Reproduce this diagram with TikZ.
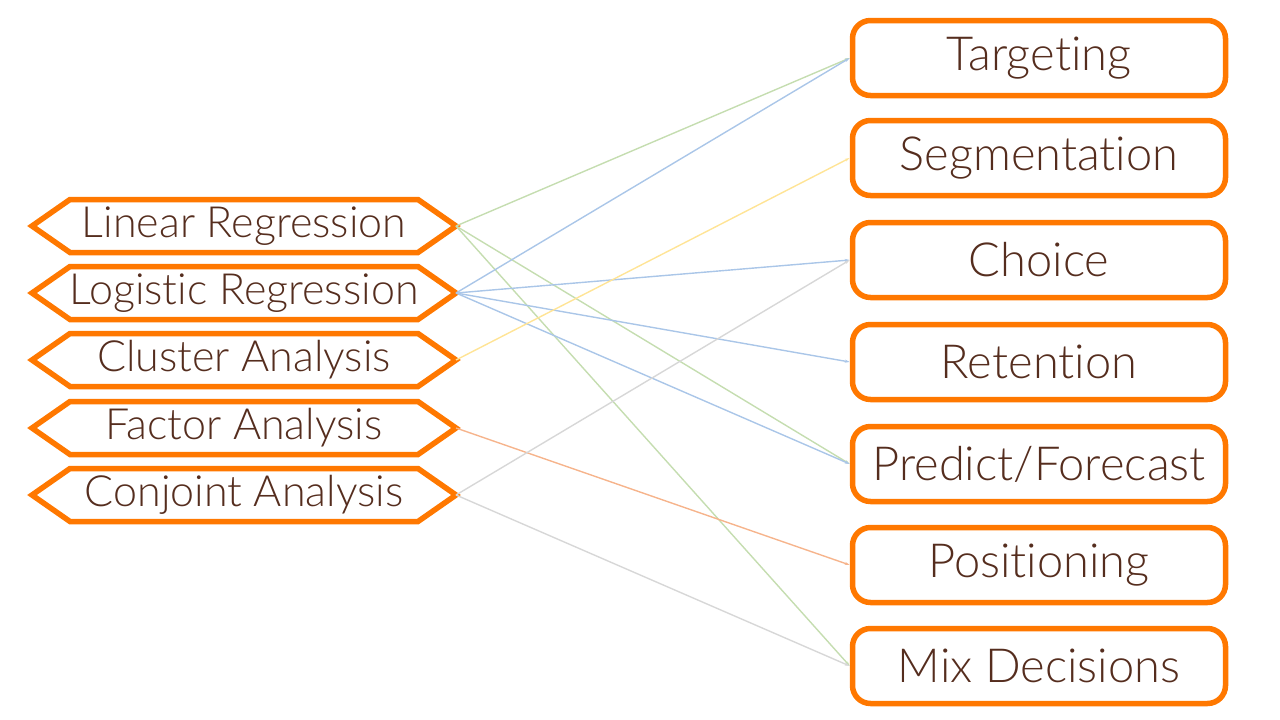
\documentclass[tikz,border=0pt]{standalone}
\usepackage{fontspec}
\setmainfont{Lato Light}[Ligatures=NoCommon]
\usetikzlibrary{arrows.meta}
\definecolor{brandorange}{RGB}{255,120,0}
\definecolor{textbrown}{RGB}{85,45,30}
\definecolor{lgreen}{RGB}{197,221,176}
\definecolor{lblue}{RGB}{170,198,232}
\definecolor{lyellow}{RGB}{255,228,150}
\definecolor{lorange}{RGB}{246,180,140}
\definecolor{lgray}{RGB}{215,215,215}
\tikzset{
	method/.style={rectangle, minimum width=424pt, minimum height=53pt, inner sep=0pt, outer sep=0pt,
		text=textbrown, font=\fontsize{43}{48}\selectfont},
	hexline/.style={draw=brandorange, line width=5.5pt},
	usebox/.style={rectangle, rounded corners=18pt, draw=brandorange, line width=5.5pt,
		minimum width=373pt, minimum height=75pt, inner sep=0pt,
		text=textbrown, font=\fontsize{47}{52}\selectfont},
	link/.style={line width=1.4pt, -{Stealth[length=5pt,width=3pt]}},
}
\begin{document}
\begin{tikzpicture}[x=1pt,y=-1pt]
	\useasboundingbox (0,0) rectangle (1280,720);
	% analysis methods
	\node[method] (linreg) at (244,226) {Linear Regression};
	\node[method] (logreg) at (244,293) {Logistic Regression};
	\node[method] (cluster) at (244,360) {Cluster Analysis};
	\node[method] (factor) at (244,428) {Factor Analysis};
	\node[method] (conjoint) at (244,495) {Conjoint Analysis};
	\foreach \n in {linreg,logreg,cluster,factor,conjoint}
		\draw[hexline] (\n.west) -- ([xshift=38pt]\n.north west) -- ([xshift=-38pt]\n.north east)
			-- (\n.east) -- ([xshift=-38pt]\n.south east) -- ([xshift=38pt]\n.south west) -- cycle;
	% marketing uses
	\node[usebox] (target) at (1039,58) {Targeting};
	\node[usebox] (segment) at (1039,158) {Segmentation};
	\node[usebox] (choice) at (1039,260) {Choice};
	\node[usebox] (retain) at (1039,362) {Retention};
	\node[usebox] (predict) at (1039,464) {Predict/Forecast};
	\node[usebox] (position) at (1039,565) {Positioning};
	\node[usebox] (mix) at (1039,666) {Mix Decisions};
	% links
	\draw[link, lgreen] (linreg.east) -- (target.west);
	\draw[link, lgreen] (linreg.east) -- (predict.west);
	\draw[link, lgreen] (linreg.east) -- (mix.west);
	\draw[link, lblue] (logreg.east) -- (target.west);
	\draw[link, lblue] (logreg.east) -- (choice.west);
	\draw[link, lblue] (logreg.east) -- (retain.west);
	\draw[link, lblue] (logreg.east) -- (predict.west);
	\draw[link, lyellow] (cluster.east) -- (segment.west);
	\draw[link, lorange] (factor.east) -- (position.west);
	\draw[link, lgray] (conjoint.east) -- (choice.west);
	\draw[link, lgray] (conjoint.east) -- (mix.west);
\end{tikzpicture}
\end{document}
